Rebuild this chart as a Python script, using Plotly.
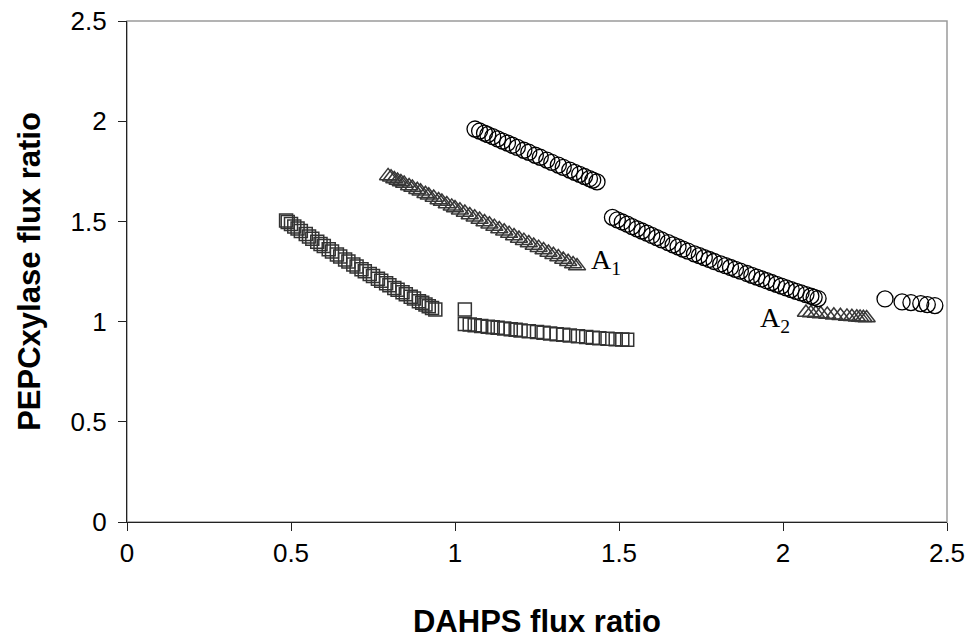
import plotly.graph_objects as go

# --- DAHPS / PEPCxylase flux ratio data -------------------------------------
# square series (two branches)
sq_x = [0.485, 0.49, 0.50, 0.51, 0.52, 0.53, 0.545, 0.555, 0.565, 0.58, 0.59, 0.60,
        0.615, 0.625, 0.64, 0.65, 0.665, 0.675, 0.69, 0.70, 0.715, 0.725, 0.74, 0.75,
        0.765, 0.775, 0.79, 0.80, 0.815, 0.825, 0.84, 0.85, 0.865, 0.875, 0.89, 0.90,
        0.91, 0.92, 0.93, 0.94,
        1.03,
        1.03, 1.045, 1.06, 1.08, 1.10, 1.115, 1.13, 1.15, 1.17, 1.185, 1.20, 1.225,
        1.25, 1.27, 1.29, 1.31, 1.33, 1.35, 1.375, 1.40, 1.42, 1.44, 1.465, 1.49,
        1.51, 1.525]
sq_y = [1.505, 1.497, 1.487, 1.475, 1.464, 1.452, 1.437, 1.425, 1.414, 1.398, 1.387, 1.377,
        1.361, 1.350, 1.335, 1.325, 1.310, 1.300, 1.285, 1.275, 1.261, 1.251, 1.237, 1.227,
        1.214, 1.204, 1.191, 1.182, 1.168, 1.159, 1.146, 1.137, 1.124, 1.115, 1.102, 1.094,
        1.085, 1.077, 1.068, 1.060,
        1.060,
        0.988, 0.985, 0.982, 0.978, 0.974, 0.972, 0.969, 0.965, 0.962, 0.959, 0.956, 0.952,
        0.948, 0.944, 0.941, 0.937, 0.934, 0.931, 0.927, 0.923, 0.920, 0.917, 0.914, 0.912,
        0.911, 0.910]

# triangle series (branches A1 and A2)
tri_x = [0.796, 0.805, 0.815, 0.825, 0.835, 0.845, 0.86, 0.87, 0.885, 0.895, 0.91, 0.92,
         0.935, 0.95, 0.96, 0.975, 0.99, 1.00, 1.015, 1.03, 1.045, 1.06, 1.075, 1.09,
         1.105, 1.12, 1.135, 1.15, 1.165, 1.18, 1.195, 1.21, 1.225, 1.24, 1.255, 1.27,
         1.285, 1.30, 1.315, 1.33, 1.345, 1.36, 1.372,
         2.07, 2.085, 2.10, 2.115, 2.135, 2.155, 2.175, 2.195, 2.21, 2.225, 2.235, 2.245, 2.255]
tri_y = [1.727, 1.720, 1.712, 1.704, 1.697, 1.689, 1.677, 1.669, 1.658, 1.650, 1.638, 1.630,
         1.619, 1.607, 1.599, 1.587, 1.575, 1.567, 1.556, 1.544, 1.532, 1.521, 1.509, 1.497,
         1.486, 1.474, 1.462, 1.451, 1.439, 1.427, 1.415, 1.404, 1.392, 1.380, 1.369, 1.357,
         1.345, 1.334, 1.322, 1.310, 1.299, 1.287, 1.277,
         1.045, 1.043, 1.041, 1.038, 1.035, 1.032, 1.029, 1.026, 1.024, 1.022, 1.021, 1.019, 1.018]

# circle series (three branches)
cir_x = [1.061, 1.075, 1.09, 1.10, 1.115, 1.13, 1.145, 1.16, 1.175, 1.19, 1.21, 1.225,
         1.245, 1.26, 1.28, 1.295, 1.315, 1.33, 1.35, 1.365, 1.38, 1.395, 1.41, 1.42, 1.433,
         1.48, 1.495, 1.51, 1.525, 1.54, 1.555, 1.57, 1.585, 1.60, 1.615, 1.63, 1.65,
         1.665, 1.68, 1.695, 1.71, 1.73, 1.745, 1.76, 1.775, 1.79, 1.81, 1.825, 1.84,
         1.855, 1.87, 1.89, 1.905, 1.92, 1.935, 1.95, 1.965, 1.98, 1.995, 2.01, 2.025,
         2.04, 2.055, 2.07, 2.085, 2.095, 2.107,
         2.311, 2.363, 2.39, 2.42, 2.44, 2.463]
cir_y = [1.961, 1.951, 1.940, 1.933, 1.923, 1.912, 1.901, 1.891, 1.880, 1.869, 1.855, 1.845,
         1.830, 1.820, 1.806, 1.795, 1.781, 1.770, 1.756, 1.745, 1.735, 1.724, 1.713, 1.706, 1.697,
         1.520, 1.508, 1.497, 1.486, 1.474, 1.463, 1.452, 1.441, 1.430, 1.419, 1.408, 1.394,
         1.383, 1.373, 1.362, 1.352, 1.338, 1.329, 1.319, 1.310, 1.300, 1.288, 1.279, 1.270,
         1.261, 1.252, 1.240, 1.231, 1.222, 1.213, 1.204, 1.195, 1.186, 1.177, 1.168, 1.160,
         1.151, 1.143, 1.135, 1.127, 1.121, 1.115,
         1.113, 1.098, 1.095, 1.090, 1.085, 1.080]

# branch labels
lab_text = ["A<sub>1</sub>", "A<sub>2</sub>"]
lab_x = [1.46, 1.975]
lab_y = [1.30, 1.01]

fig = go.Figure()

fig.add_trace(go.Scatter(
    x=sq_x, y=sq_y, mode="markers",
    marker=dict(symbol="square-open", size=13, color="#333333", line=dict(width=1.5)),
    showlegend=False))
fig.add_trace(go.Scatter(
    x=tri_x, y=tri_y, mode="markers",
    marker=dict(symbol="triangle-up-open", size=15, color="#383838", line=dict(width=1.5)),
    showlegend=False))
fig.add_trace(go.Scatter(
    x=cir_x, y=cir_y, mode="markers",
    marker=dict(symbol="circle-open", size=16, color="#000000", line=dict(width=1.3)),
    showlegend=False))

for t, ax, ay in zip(lab_text, lab_x, lab_y):
    fig.add_annotation(x=ax, y=ay, text=t, showarrow=False,
                       font=dict(family="Liberation Serif", size=28, color="black"))

# grey plot-area frame; the black axes are drawn over its left and bottom edges
fig.add_shape(type="rect", xref="paper", yref="paper", x0=0, y0=0, x1=1, y1=1,
              line=dict(color="#9a9a9a", width=1.5), layer="below")

axis_font = dict(family="Liberation Sans", size=26, color="black")
title_font = dict(family="Liberation Sans", size=31, color="black")

fig.update_layout(
    width=969, height=639,
    margin=dict(l=127, r=22, t=21, b=117),
    paper_bgcolor="white", plot_bgcolor="white",
    xaxis=dict(range=[0, 2.5], dtick=0.5, tick0=0, showgrid=False, zeroline=False,
               showline=True, linecolor="#222222", linewidth=1.3,
               ticks="outside", ticklen=8, tickcolor="#222222",
               tickfont=axis_font, ticklabelstandoff=0, automargin=False,
               title=dict(text="<b>DAHPS flux ratio</b>", font=title_font, standoff=44)),
    yaxis=dict(range=[0, 2.5], dtick=0.5, tick0=0, showgrid=False, zeroline=False,
               showline=True, linecolor="#222222", linewidth=1.3,
               ticks="outside", ticklen=8, tickcolor="#222222",
               tickfont=axis_font, ticklabelstandoff=6, automargin=False,
               title=dict(text="<b>PEPCxylase flux ratio</b>", font=title_font, standoff=20)),
)

fig.write_html("out.html")
